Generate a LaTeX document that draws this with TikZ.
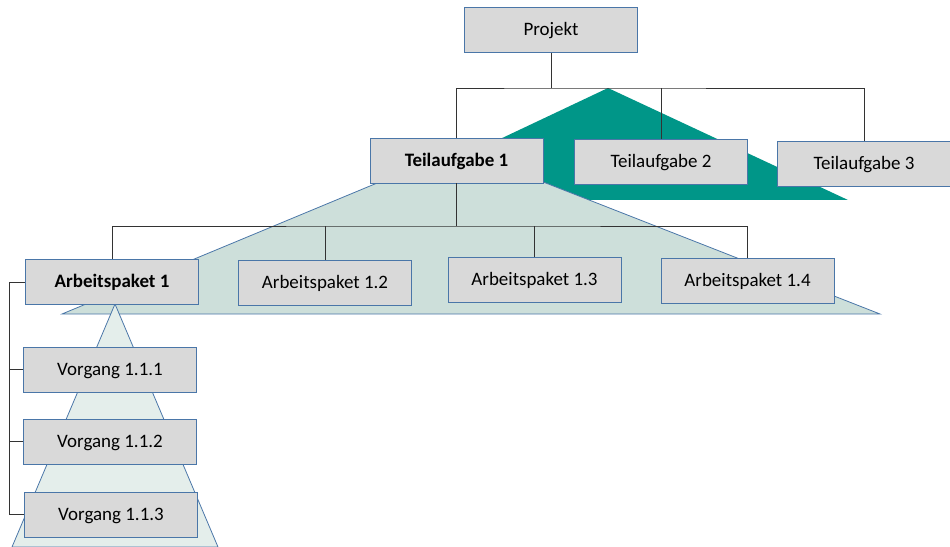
\documentclass[tikz,border=0pt]{standalone}
\usepackage{fontspec}
\setmainfont{Carlito}
\begin{document}
\begin{tikzpicture}[x=0.02cm,y=-0.02cm]

  \definecolor{boxcol}{RGB}{217,217,217}
  \definecolor{rimcol}{RGB}{74,118,168}
  \definecolor{tealcol}{RGB}{0,150,136}
  \definecolor{tricol}{RGB}{205,223,218}
  \definecolor{subcol}{RGB}{228,238,235}

 \tikzset{
      wbsbox/.style={draw=rimcol,fill=boxcol,line width=0.45pt,
        minimum width=3.46cm,minimum height=0.9cm,inner sep=0pt,
        text height=8pt,text depth=1.2pt,
        font=\fontsize{10.8}{13}\selectfont},
      link/.style={draw=black!80,line width=0.5pt},
      tristl/.style={draw=rimcol,line width=0.45pt},
    }

 \useasboundingbox (0,0) rectangle (950,547);

 % triangles behind the boxes
 \fill[tealcol] (608,88) -- (848,200) -- (371,200) -- cycle;
 \filldraw[tristl,fill=tricol] (459,149) -- (880,314) -- (62,314) -- cycle;
 \filldraw[tristl,fill=subcol] (115,304) -- (218,547) -- (12,547) -- cycle;

 \node[wbsbox] (proj) at (551,30) {Projekt};

 \node[wbsbox] (ta1) at (456.5,160.5) {\bfseries Teilaufgabe 1};
 \node[wbsbox] (ta2) at (661,162) {Teilaufgabe 2};
 \node[wbsbox] (ta3) at (864,163.5) {Teilaufgabe 3};

 \node[wbsbox] (ap1) at (112,282) {\bfseries Arbeitspaket 1};
 \node[wbsbox] (ap2) at (325,282.5) {Arbeitspaket 1.2};
 \node[wbsbox] (ap3) at (534.5,279.5) {Arbeitspaket 1.3};
 \node[wbsbox] (ap4) at (747.5,281) {Arbeitspaket 1.4};

 \node[wbsbox] (v1) at (110,369.5) {Vorgang 1.1.1};
 \node[wbsbox] (v2) at (110,441.5) {Vorgang 1.1.2};
 \node[wbsbox] (v3) at (111,514.5) {Vorgang 1.1.3};

 \coordinate (bus1) at (551,88);
 \coordinate (bus2) at (456.5,226);
 \coordinate (rail) at (9,282);

 \draw[link] (proj.south) -- (bus1);
 \draw[link] (ta1.north) |- (bus1) -| (ta3.north);
 \draw[link] (ta2.north) -- (ta2 |- bus1);

 \draw[link] (ta1.south) -- (bus2);
 \draw[link] (ap1.north) |- (bus2) -| (ap4.north);
 \draw[link] (ap2.north) -- (ap2 |- bus2);
 \draw[link] (ap3.north) -- (ap3 |- bus2);

 \draw[link] (ap1.west) -- (rail) |- (v3.west);
 \foreach \v in {v1,v2}
   \draw[link] (\v.west) -- (\v.west -| rail);
\end{tikzpicture}
\end{document}
